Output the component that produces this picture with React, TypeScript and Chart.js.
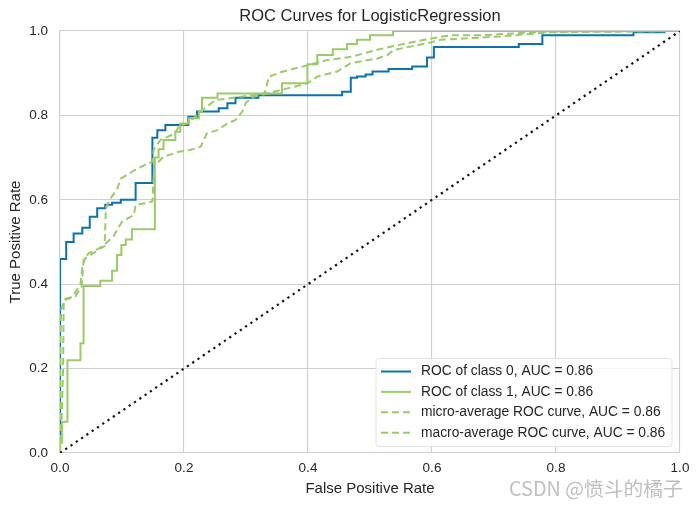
import React, { useEffect, useRef } from 'react';
import { Chart, registerables } from 'chart.js';

Chart.register(...registerables);

const chartTitle = 'ROC Curves for LogisticRegression';
const xAxisTitle = 'False Positive Rate';
const yAxisTitle = 'True Positive Rate';
const watermark = 'CSDN @愤斗的橘子';

const tickValues = [0, 0.2, 0.4, 0.6, 0.8, 1.0];
const tickLabels = ['0.0', '0.2', '0.4', '0.6', '0.8', '1.0'];

const seriesLabels = [
  'ROC of class 0, AUC = 0.86',
  'ROC of class 1, AUC = 0.86',
  'micro-average ROC curve, AUC = 0.86',
  'macro-average ROC curve, AUC = 0.86',
];

const class0Fpr = [0, 0, 0.010, 0.022, 0.036, 0.048, 0.060, 0.073, 0.084, 0.098, 0.122, 0.149, 0.157, 0.170, 0.207, 0.221, 0.256, 0.270, 0.283, 0.320, 0.455, 0.469, 0.479, 0.493, 0.504, 0.530, 0.568, 0.592, 0.603, 0.740, 0.778, 0.925, 0.975, 1.0];
const class0Tpr = [0, 0.46, 0.50, 0.52, 0.534, 0.56, 0.58, 0.588, 0.593, 0.60, 0.64, 0.747, 0.765, 0.777, 0.797, 0.809, 0.817, 0.829, 0.842, 0.848, 0.856, 0.889, 0.892, 0.897, 0.904, 0.91, 0.916, 0.937, 0.962, 0.969, 0.99, 0.997, 1.0, 1.0];

const class1Fpr = [0, 0, 0.003, 0.012, 0.033, 0.038, 0.065, 0.084, 0.092, 0.099, 0.106, 0.116, 0.153, 0.159, 0.167, 0.186, 0.194, 0.208, 0.224, 0.229, 0.254, 0.358, 0.399, 0.415, 0.440, 0.463, 0.479, 0.500, 0.537, 1.0];
const class1Tpr = [0, 0.024, 0.074, 0.22, 0.26, 0.396, 0.408, 0.432, 0.469, 0.493, 0.506, 0.530, 0.70, 0.72, 0.742, 0.761, 0.781, 0.793, 0.809, 0.842, 0.852, 0.876, 0.921, 0.943, 0.957, 0.969, 0.979, 0.99, 1.0, 1.0];

const microFpr = [0, 0.002, 0.005, 0.006, 0.02, 0.033, 0.036, 0.04, 0.05, 0.065, 0.072, 0.074, 0.08, 0.092, 0.098, 0.12, 0.14, 0.149, 0.151, 0.162, 0.175, 0.186, 0.192, 0.205, 0.237, 0.25, 0.31, 0.33, 0.337, 0.36, 0.40, 0.43, 0.47, 0.51, 0.54, 0.59, 0.63, 0.68, 0.78, 1.0];
const microTpr = [0, 0.05, 0.2, 0.36, 0.37, 0.40, 0.44, 0.46, 0.47, 0.485, 0.49, 0.58, 0.60, 0.625, 0.65, 0.67, 0.685, 0.69, 0.718, 0.742, 0.75, 0.758, 0.775, 0.781, 0.821, 0.836, 0.848, 0.852, 0.892, 0.904, 0.919, 0.931, 0.939, 0.955, 0.965, 0.98, 0.99, 0.99, 0.998, 1.0];

const macroFpr = [0, 0, 0.001, 0.002, 0.008, 0.025, 0.035, 0.038, 0.046, 0.063, 0.071, 0.086, 0.092, 0.10, 0.119, 0.122, 0.138, 0.149, 0.152, 0.167, 0.192, 0.21, 0.227, 0.237, 0.254, 0.27, 0.283, 0.294, 0.30, 0.312, 0.334, 0.356, 0.399, 0.415, 0.447, 0.469, 0.512, 0.528, 0.538, 0.565, 0.592, 0.614, 0.71, 0.79, 1.0];
const macroTpr = [0, 0.04, 0.27, 0.34, 0.365, 0.372, 0.394, 0.457, 0.473, 0.485, 0.493, 0.513, 0.528, 0.548, 0.564, 0.588, 0.592, 0.596, 0.68, 0.702, 0.714, 0.718, 0.726, 0.758, 0.765, 0.781, 0.789, 0.809, 0.83, 0.844, 0.852, 0.86, 0.876, 0.892, 0.904, 0.924, 0.935, 0.943, 0.955, 0.963, 0.971, 0.979, 0.987, 0.997, 1.0];

const diagFpr = [0, 1];
const diagTpr = [0, 1];

const BLUE = '#0a72b0';
const GREEN = '#9acb68';
const FONT = "'Liberation Sans', Arial, sans-serif";
const TEXT = '#262626';
const GRID = '#cfcfcf';

const toPts = (xs: number[], ys: number[]) => xs.map((x, i) => ({ x, y: ys[i] }));

export default function App() {
  const ref = useRef<HTMLCanvasElement>(null);

  useEffect(() => {
    const canvas = ref.current;
    if (!canvas) return;

    const overlay = {
      id: 'overlay',
      afterDraw(chart: any) {
        const ctx = chart.ctx as CanvasRenderingContext2D;
        const area = chart.chartArea;
        const cx = (area.left + area.right) / 2;
        ctx.save();
        ctx.fillStyle = TEXT;
        ctx.textAlign = 'center';
        ctx.textBaseline = 'middle';
        ctx.font = `16.5px ${FONT}`;
        ctx.fillText(chartTitle, cx, 16);
        ctx.font = `15px ${FONT}`;
        ctx.fillText(xAxisTitle, cx, 489);
        ctx.save();
        ctx.translate(16, (area.top + area.bottom) / 2);
        ctx.rotate(-Math.PI / 2);
        ctx.fillText(yAxisTitle, 0, 0);
        ctx.restore();

        // legend
        const lx = 376, ly = 358.5, lw = 296, lh = 88, r = 3;
        ctx.beginPath();
        ctx.moveTo(lx + r, ly);
        ctx.lineTo(lx + lw - r, ly);
        ctx.quadraticCurveTo(lx + lw, ly, lx + lw, ly + r);
        ctx.lineTo(lx + lw, ly + lh - r);
        ctx.quadraticCurveTo(lx + lw, ly + lh, lx + lw - r, ly + lh);
        ctx.lineTo(lx + r, ly + lh);
        ctx.quadraticCurveTo(lx, ly + lh, lx, ly + lh - r);
        ctx.lineTo(lx, ly + r);
        ctx.quadraticCurveTo(lx, ly, lx + r, ly);
        ctx.closePath();
        ctx.fillStyle = 'rgba(255,255,255,0.8)';
        ctx.fill();
        ctx.strokeStyle = '#e2e2e2';
        ctx.lineWidth = 1;
        ctx.stroke();

        const ds = chart.data.datasets.slice(0, 4);
        ds.forEach((d: any, i: number) => {
          const y = 371.5 + i * 20.4;
          ctx.beginPath();
          ctx.setLineDash(d.borderDash || []);
          ctx.strokeStyle = d.borderColor;
          ctx.lineWidth = 2;
          ctx.moveTo(381, y);
          ctx.lineTo(411, y);
          ctx.stroke();
          ctx.setLineDash([]);
          ctx.fillStyle = TEXT;
          ctx.textAlign = 'left';
          ctx.textBaseline = 'middle';
          ctx.font = `13.8px ${FONT}`;
          ctx.fillText(d.label, 421, y);
        });

        // watermark
        ctx.font = `19.8px 'Noto Sans CJK SC', sans-serif`;
        ctx.textAlign = 'left';
        ctx.textBaseline = 'middle';
        ctx.fillStyle = 'rgba(170,170,170,0.75)';
        ctx.fillText(watermark, 509, 488);
        ctx.restore();
      },
    };

    const axisCommon = (isX: boolean) => ({
      type: 'linear' as const,
      min: 0,
      max: 1,
      afterBuildTicks: (s: any) => {
        s.ticks = tickValues.map((v) => ({ value: v }));
      },
      afterFit: (s: any) => {
        if (isX) s.height = 54;
        else s.width = 60;
      },
      ticks: {
        padding: isX ? 7 : 12,
        color: TEXT,
        font: { family: FONT, size: 13.5 },
        callback: (_v: any, i: number) => tickLabels[i],
        maxRotation: 0,
      },
      grid: { color: GRID, lineWidth: 1.1, drawTicks: false },
      border: { display: true, color: GRID, width: 1.1 },
    });

    const chart = new Chart(canvas, {
      type: 'scatter',
      data: {
        datasets: [
          {
            label: seriesLabels[0],
            data: toPts(class0Fpr, class0Tpr),
            showLine: true,
            stepped: 'before',
            borderColor: BLUE,
            backgroundColor: BLUE,
            borderWidth: 2,
            pointRadius: 0,
            order: 4,
          },
          {
            label: seriesLabels[1],
            data: toPts(class1Fpr, class1Tpr),
            showLine: true,
            stepped: 'before',
            borderColor: GREEN,
            backgroundColor: GREEN,
            borderWidth: 2,
            pointRadius: 0,
            order: 3,
          },
          {
            label: seriesLabels[2],
            data: toPts(microFpr, microTpr),
            showLine: true,
            borderColor: GREEN,
            backgroundColor: GREEN,
            borderWidth: 2,
            borderDash: [7, 4],
            pointRadius: 0,
            order: 2,
          },
          {
            label: seriesLabels[3],
            data: toPts(macroFpr, macroTpr),
            showLine: true,
            borderColor: GREEN,
            backgroundColor: GREEN,
            borderWidth: 2,
            borderDash: [7, 4],
            pointRadius: 0,
            order: 1,
          },
          {
            label: 'diagonal',
            data: toPts(diagFpr, diagTpr),
            showLine: true,
            borderColor: '#111111',
            backgroundColor: '#111111',
            borderWidth: 2.2,
            borderDash: [2.2, 4.2],
            pointRadius: 0,
            order: 0,
          },
        ],
      } as any,
      options: {
        animation: false,
        responsive: false,
        devicePixelRatio: 1,
        layout: { padding: { left: 0, top: 31, right: 18, bottom: 0 } },
        plugins: {
          legend: { display: false },
          title: { display: false },
          tooltip: { enabled: false },
        },
        scales: {
          x: axisCommon(true),
          y: axisCommon(false),
        },
      } as any,
      plugins: [overlay],
    });

    return () => chart.destroy();
  }, []);

  return (
    <div style={{ position: 'absolute', left: 0, top: 0, width: 698, height: 507, background: '#ffffff' }}>
      <canvas ref={ref} width={698} height={507} style={{ display: 'block' }} />
    </div>
  );
}
